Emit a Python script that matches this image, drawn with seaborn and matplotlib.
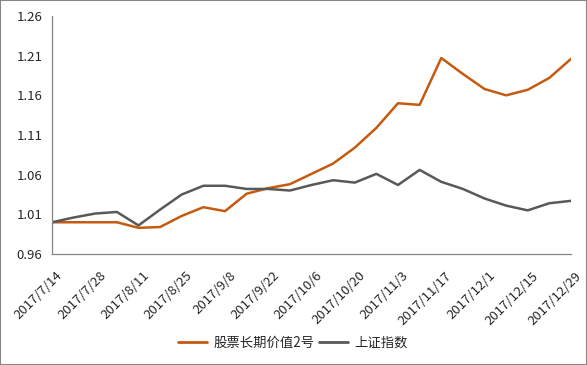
import numpy as np
import pandas as pd
import matplotlib
matplotlib.use("Agg")
import matplotlib.pyplot as plt
import matplotlib.transforms as mtransforms
import seaborn as sns

# weekly dates, 2017/7/14 .. 2017/12/29
dates = ["2017/7/14", "2017/7/21", "2017/7/28", "2017/8/4", "2017/8/11", "2017/8/18",
         "2017/8/25", "2017/9/1", "2017/9/8", "2017/9/15", "2017/9/22", "2017/9/29",
         "2017/10/6", "2017/10/13", "2017/10/20", "2017/10/27", "2017/11/3", "2017/11/10",
         "2017/11/17", "2017/11/24", "2017/12/1", "2017/12/8", "2017/12/15", "2017/12/22",
         "2017/12/29"]

fund = [1.000, 1.000, 1.000, 1.000, 0.993, 0.994, 1.008, 1.019, 1.014, 1.036,
        1.043, 1.048, 1.061, 1.074, 1.094, 1.119, 1.150, 1.148, 1.207, 1.187,
        1.168, 1.160, 1.167, 1.182, 1.206]

sh_index = [1.000, 1.006, 1.011, 1.013, 0.996, 1.016, 1.035, 1.046, 1.046, 1.042,
            1.042, 1.040, 1.047, 1.053, 1.050, 1.061, 1.047, 1.066, 1.051, 1.042,
            1.030, 1.021, 1.015, 1.024, 1.027]

names = ["股票长期价值2号", "上证指数"]
yticks = [0.96, 1.01, 1.06, 1.11, 1.16, 1.21, 1.26]

df = pd.DataFrame({"idx": list(range(len(dates))) * 2,
                   "value": fund + sh_index,
                   "series": [names[0]] * len(dates) + [names[1]] * len(dates)})

sns.set_style("white")
plt.rcParams["font.family"] = ["Noto Sans CJK SC", "DejaVu Sans"]

fig = plt.figure(figsize=(5.87, 3.65), dpi=100)
ax = fig.add_axes([52 / 587, 1 - 254 / 365, 519 / 587, 238 / 365])

sns.lineplot(data=df, x="idx", y="value", hue="series",
             palette={names[0]: "#C55A11", names[1]: "#595959"},
             linewidth=1.8, ax=ax, legend=False)

ax.set_xlim(0, len(dates) - 1)
ax.set_ylim(0.96, 1.26)
ax.set_yticks(yticks)
ax.set_yticklabels([f"{v:.2f}" for v in yticks], fontsize=9.5)
ax.set_xticks(range(0, len(dates), 2))
ax.set_xticklabels(dates[::2], rotation=45, ha="right", rotation_mode="anchor", fontsize=9.5)
ax.tick_params(axis="y", length=0, pad=7)
ax.tick_params(axis="x", length=0, pad=11)
# nudge the rotated labels a bit to the right, like Excel does
shift = mtransforms.ScaledTranslation(4 / 100, 0, fig.dpi_scale_trans)
for lbl in ax.get_xticklabels():
    lbl.set_transform(lbl.get_transform() + shift)
ax.set_xlabel("")
ax.set_ylabel("")
for s in ["top", "right"]:
    ax.spines[s].set_visible(False)
for s in ["left", "bottom"]:
    ax.spines[s].set_color("#868686")
    ax.spines[s].set_linewidth(0.9)

handles = [plt.Line2D([], [], color="#C55A11", lw=2),
           plt.Line2D([], [], color="#595959", lw=2)]
fig.legend(handles, names, loc="center", bbox_to_anchor=(293 / 587, 1 - 343 / 365), ncol=2,
           frameon=False, fontsize=9.6, handlelength=2.2, columnspacing=0.35, handletextpad=0.45)

fig.patches.append(plt.Rectangle((0, 0), 1, 1, transform=fig.transFigure, fill=False,
                                 edgecolor="#868686", lw=1.5))

fig.savefig("out.png", dpi=100)
